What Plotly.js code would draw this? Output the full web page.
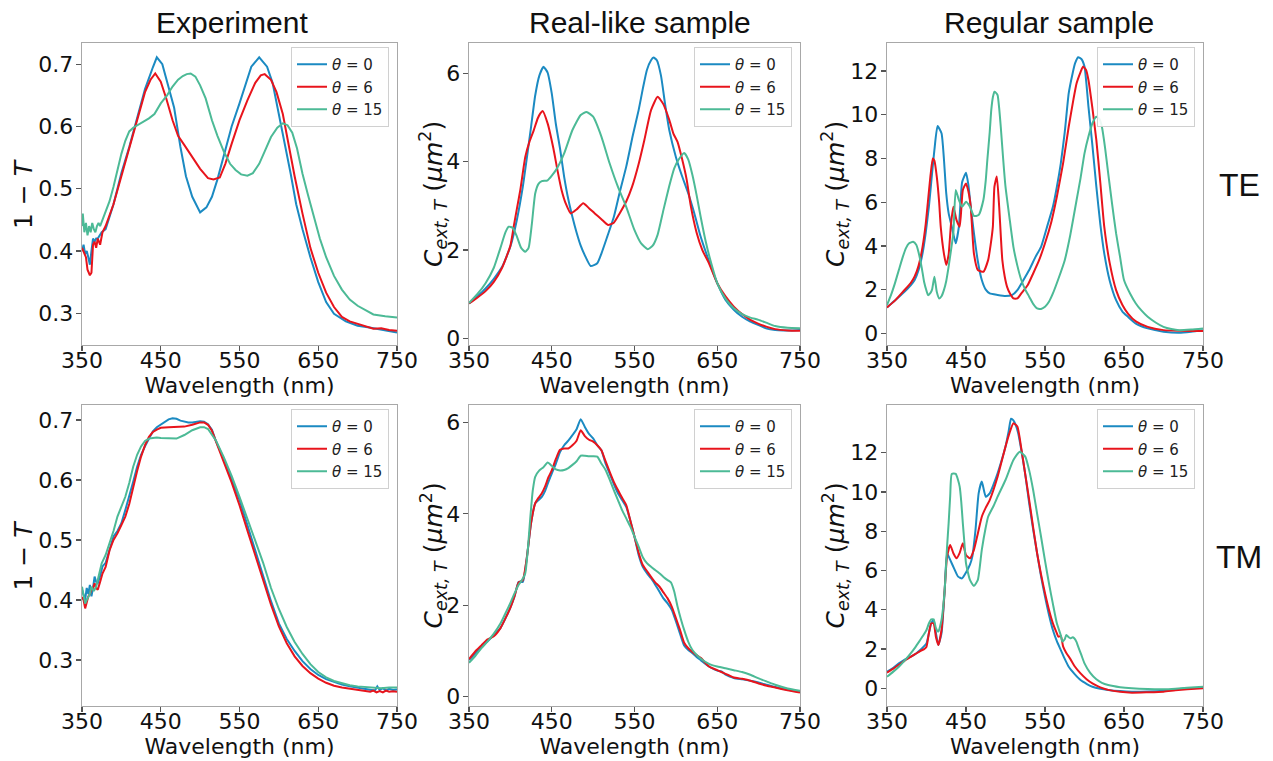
<!DOCTYPE html>
<html><head><meta charset="utf-8">
<script src="https://cdn.plot.ly/plotly-3.0.1.min.js"></script>
<style>html,body{margin:0;padding:0;background:#fff}#plot{width:1273px;height:761px}</style>
</head><body><div id="plot"></div>
<script>
// ---------- DATA ----------
const seriesNames = ["<i>θ</i> = 0", "<i>θ</i> = 6", "<i>θ</i> = 15"];
const columnTitles = ["Experiment", "Real-like sample", "Regular sample"];
const rowLabels = ["TE", "TM"];
const xTicks = [350, 450, 550, 650, 750];
const xTitle = "Wavelength (nm)";
const yTitles = ["1 − <i>T</i>", "<i>C</i><sub><i>ext, T</i></sub> (<i>μm</i><sup>2</sup>)", "<i>C</i><sub><i>ext, T</i></sub> (<i>μm</i><sup>2</sup>)"];

// Experiment, TE
const expTE_x0 = [350,352,354,356,358,360,362,364,366,368,370,372,375,380,385,390,395,400,410,420,430,440,445,452,460,467,475,482,490,500,508,515,522,530,540,550,558,565,575,585,592,600,607,615,622,630,640,650,660,670,685,700,715,725,740,750];
const expTE_y0 = [0.40,0.41,0.395,0.40,0.39,0.378,0.40,0.42,0.415,0.42,0.42,0.425,0.43,0.435,0.455,0.475,0.50,0.525,0.567,0.615,0.66,0.695,0.711,0.70,0.664,0.63,0.567,0.52,0.487,0.462,0.47,0.487,0.515,0.551,0.60,0.637,0.67,0.696,0.711,0.696,0.67,0.621,0.575,0.524,0.475,0.435,0.39,0.35,0.318,0.299,0.287,0.280,0.277,0.275,0.272,0.269];
const expTE_x1 = [350,352,355,357,360,362,364,366,368,370,373,376,380,390,400,410,420,430,437,443,450,457,465,472,480,490,500,510,517,525,532,540,550,560,570,577,582,590,597,605,612,620,630,640,650,660,670,680,690,700,710,720,730,740,750];
const expTE_y1 = [0.405,0.40,0.39,0.37,0.361,0.365,0.41,0.415,0.405,0.42,0.41,0.43,0.44,0.475,0.52,0.565,0.61,0.655,0.675,0.685,0.672,0.645,0.61,0.585,0.57,0.55,0.532,0.517,0.515,0.518,0.54,0.572,0.61,0.642,0.67,0.682,0.684,0.675,0.655,0.62,0.572,0.52,0.46,0.405,0.365,0.333,0.31,0.294,0.287,0.283,0.279,0.275,0.276,0.273,0.272];
const expTE_x2 = [350,351,353,355,357,359,361,363,365,367,369,371,373,376,380,385,390,395,400,405,410,415,420,428,435,442,450,458,465,472,478,483,488,494,500,507,515,522,530,538,545,552,560,567,575,582,590,598,605,611,617,623,630,637,645,652,660,670,680,690,700,710,720,735,750];
const expTE_y2 = [0.44,0.46,0.43,0.445,0.425,0.44,0.43,0.445,0.435,0.43,0.44,0.445,0.44,0.45,0.46,0.48,0.503,0.53,0.556,0.577,0.592,0.598,0.602,0.607,0.613,0.62,0.637,0.65,0.664,0.675,0.681,0.684,0.685,0.68,0.666,0.645,0.61,0.585,0.56,0.54,0.53,0.523,0.521,0.525,0.54,0.56,0.583,0.598,0.605,0.602,0.59,0.565,0.524,0.49,0.454,0.42,0.39,0.36,0.338,0.322,0.312,0.305,0.298,0.295,0.293];

// Real-like sample, TE
const rlTE_x0 = [350,360,370,380,390,400,408,415,420,425,430,435,440,445,450,455,460,465,470,475,480,485,490,497,505,510,517,525,532,540,548,555,560,565,570,573,577,582,587,592,600,607,615,622,630,640,650,660,670,680,690,700,710,720,730,740,750];
const rlTE_y0 = [0.79,0.95,1.13,1.35,1.62,2.08,2.7,3.43,4.1,4.79,5.5,5.95,6.15,6.02,5.55,4.85,4.3,3.66,3.15,2.75,2.4,2.1,1.88,1.64,1.7,1.92,2.3,2.75,3.3,3.89,4.6,5.17,5.65,6.08,6.3,6.36,6.3,5.95,5.3,4.72,4.11,3.7,3.28,2.85,2.3,1.75,1.25,0.87,0.65,0.49,0.38,0.3,0.22,0.19,0.18,0.18,0.19];
const rlTE_x1 = [350,360,370,380,390,400,404,408,412,418,423,428,433,436,439,445,452,457,462,467,473,480,488,495,502,510,518,525,532,540,547,555,562,570,578,585,592,597,602,607,613,618,625,632,640,650,660,670,680,690,700,710,720,735,750];
const rlTE_y1 = [0.79,0.92,1.07,1.28,1.6,2.1,2.53,2.95,3.36,4.11,4.45,4.7,4.98,5.09,5.15,4.87,4.3,3.8,3.35,3.05,2.83,2.92,3.06,2.95,2.83,2.7,2.57,2.62,2.83,3.1,3.43,3.95,4.5,5.17,5.47,5.3,4.95,4.64,4.45,4.1,3.6,3.0,2.4,2.0,1.7,1.25,0.95,0.72,0.55,0.42,0.33,0.26,0.21,0.18,0.17];
const rlTE_x2 = [350,360,370,380,388,394,398,403,408,413,418,422,426,430,434,438,445,455,465,475,485,492,500,510,520,530,540,550,558,566,572,578,585,592,598,603,610,615,620,625,630,636,642,650,660,670,680,690,700,710,720,735,750];
const rlTE_y2 = [0.8,1.0,1.25,1.6,2.05,2.4,2.53,2.5,2.3,2.05,1.96,2.05,2.6,3.28,3.5,3.56,3.58,3.81,4.19,4.72,5.06,5.13,5.02,4.57,3.96,3.43,2.98,2.45,2.15,2.02,2.1,2.35,2.91,3.45,3.85,4.04,4.2,4.05,3.7,3.25,2.75,2.2,1.75,1.25,0.9,0.68,0.55,0.47,0.42,0.35,0.28,0.24,0.23];

// Regular sample, TE
const rgTE_x0 = [350,360,370,380,385,390,395,399,403,407,410,414,419,422,425,428,432,437,441,445,448,450,453,456,460,465,470,475,480,490,500,508,515,522,530,538,545,552,560,565,570,575,580,585,588,592,596,600,605,610,615,620,625,632,640,648,655,665,680,700,720,735,750];
const rgTE_y0 = [1.19,1.5,1.83,2.2,2.44,2.9,3.66,4.6,5.79,7.3,8.39,9.48,9.15,8.0,6.4,5.5,4.88,4.12,4.88,6.9,7.2,7.35,6.8,5.79,4.6,3.3,2.44,2.0,1.83,1.76,1.71,1.75,1.98,2.4,2.9,3.5,3.96,4.8,5.79,6.7,7.78,9.2,10.98,11.9,12.35,12.63,12.55,12.2,10.37,8.6,6.71,5.0,3.66,2.4,1.52,1.0,0.76,0.45,0.23,0.08,0.03,0.08,0.15];
const rgTE_x1 = [350,360,370,380,385,390,395,399,402,405,408,410,413,416,418,422,425,428,431,434,438,442,446,450,453,456,460,465,472,478,481,484,486,489,492,494,496,499,502,506,510,515,520,528,535,542,550,558,565,573,580,586,590,595,598,602,605,610,615,620,625,632,640,648,655,665,680,700,720,750];
const rgTE_y1 = [1.19,1.5,1.9,2.3,2.6,3.1,3.96,5.0,6.1,7.2,8.0,7.9,7.17,6.0,4.88,3.66,3.13,3.6,5.0,5.79,5.18,4.88,6.56,6.86,6.5,5.79,3.66,2.9,2.82,3.35,4.0,4.88,6.71,7.17,5.79,4.5,3.35,2.6,2.13,1.8,1.6,1.6,1.83,2.2,2.74,3.3,4.12,5.1,6.25,7.8,9.45,10.7,11.44,11.95,12.2,12.05,11.59,10.3,8.84,6.9,4.88,3.2,1.98,1.3,0.91,0.55,0.3,0.15,0.12,0.11];
const rgTE_x2 = [350,355,360,365,370,374,378,383,387,390,394,397,400,402,405,407,410,413,416,419,422,425,428,431,434,437,441,445,450,455,460,466,472,475,477,480,482,484,486,488,490,492,494,497,500,505,510,515,520,525,530,535,540,545,550,555,560,567,575,582,590,595,600,605,610,615,619,622,626,630,635,640,645,650,658,665,672,680,690,700,710,720,735,750];
const rgTE_y2 = [1.3,1.75,2.29,2.9,3.5,3.9,4.12,4.19,4.05,3.7,3.0,2.35,1.95,1.75,1.85,2.0,2.59,1.9,1.6,1.7,1.98,2.4,3.05,3.8,4.6,6.56,6.1,5.79,6.02,5.79,5.37,5.41,6.1,7.0,7.93,9.2,10.22,10.8,11.05,11.0,10.9,10.3,9.45,8.0,6.71,5.3,3.96,3.1,2.44,2.0,1.68,1.35,1.14,1.12,1.22,1.45,1.83,2.5,3.35,4.5,6.1,7.1,8.23,9.0,9.61,9.91,9.8,9.45,8.5,7.32,5.9,4.57,3.5,2.44,1.8,1.37,1.05,0.76,0.5,0.3,0.2,0.15,0.18,0.23];

// Experiment, TM
const expTM_x0 = [350,352,354,356,358,360,362,364,366,368,370,373,376,380,385,390,395,400,405,410,415,420,425,430,435,440,445,450,455,460,465,470,475,480,485,490,495,500,505,510,515,520,530,540,550,560,570,580,590,600,610,620,625,630,640,650,660,670,680,690,700,710,718,722,725,728,732,736,740,745,750];
const expTM_y0 = [0.417,0.41,0.40,0.42,0.41,0.425,0.406,0.42,0.439,0.43,0.428,0.44,0.456,0.462,0.485,0.506,0.515,0.528,0.55,0.572,0.597,0.622,0.642,0.656,0.668,0.681,0.688,0.692,0.697,0.701,0.703,0.702,0.699,0.697,0.696,0.696,0.697,0.698,0.697,0.693,0.684,0.665,0.635,0.6,0.567,0.525,0.482,0.44,0.398,0.361,0.335,0.315,0.306,0.298,0.285,0.275,0.268,0.263,0.259,0.256,0.254,0.252,0.251,0.249,0.256,0.25,0.253,0.249,0.252,0.25,0.251];
const expTM_x1 = [350,352,354,356,358,360,362,364,366,368,370,373,376,380,385,390,395,400,405,410,415,420,425,430,435,440,445,450,460,470,480,490,500,505,510,515,520,530,540,550,560,570,580,590,600,610,620,630,640,650,660,670,680,690,700,710,716,720,724,728,732,736,740,745,750];
const expTM_y1 = [0.405,0.40,0.386,0.395,0.406,0.41,0.417,0.42,0.428,0.42,0.417,0.43,0.444,0.455,0.483,0.50,0.511,0.525,0.539,0.56,0.589,0.615,0.639,0.658,0.672,0.68,0.684,0.687,0.688,0.688,0.689,0.692,0.696,0.696,0.692,0.682,0.664,0.63,0.596,0.558,0.516,0.474,0.432,0.392,0.356,0.328,0.306,0.29,0.278,0.269,0.262,0.257,0.254,0.252,0.25,0.249,0.247,0.249,0.246,0.248,0.246,0.249,0.247,0.248,0.247];
const expTM_x2 = [350,352,354,356,358,360,362,365,368,371,375,380,385,390,395,400,405,410,415,420,425,430,435,440,445,450,460,470,480,490,500,505,510,520,530,540,550,560,570,580,590,600,610,620,630,640,650,660,670,680,690,700,710,720,730,740,750];
const expTM_y2 = [0.422,0.41,0.394,0.40,0.406,0.41,0.422,0.415,0.422,0.44,0.461,0.475,0.494,0.515,0.539,0.555,0.572,0.595,0.622,0.642,0.656,0.665,0.669,0.67,0.671,0.67,0.669,0.669,0.675,0.683,0.688,0.688,0.685,0.666,0.638,0.607,0.572,0.536,0.50,0.462,0.42,0.385,0.355,0.33,0.31,0.293,0.28,0.271,0.265,0.261,0.258,0.256,0.255,0.254,0.253,0.254,0.254];

// Real-like sample, TM
const rlTM_x0 = [350,358,365,372,380,388,395,400,405,410,415,420,425,430,434,438,442,446,450,455,460,465,470,475,480,485,490,495,500,505,510,515,520,525,530,535,540,545,550,555,560,565,570,575,580,585,590,595,600,605,610,615,620,625,630,640,650,655,660,665,670,680,690,700,710,720,735,750];
const rlTM_y0 = [0.8,0.95,1.09,1.2,1.35,1.5,1.75,1.95,2.19,2.51,2.51,3.06,3.79,4.23,4.3,4.37,4.5,4.7,4.88,5.1,5.35,5.5,5.6,5.72,5.85,6.07,5.9,5.75,5.65,5.5,5.39,5.1,4.88,4.65,4.45,4.3,4.15,3.85,3.5,3.1,2.84,2.7,2.59,2.45,2.3,2.15,2.04,1.9,1.65,1.38,1.12,1.02,0.95,0.87,0.8,0.66,0.57,0.55,0.48,0.44,0.41,0.38,0.35,0.31,0.26,0.21,0.15,0.11];
const rlTM_x1 = [350,358,365,372,380,388,395,400,405,410,415,420,425,430,434,438,442,446,450,455,460,465,470,475,480,485,490,495,500,505,510,515,520,525,530,535,540,545,550,555,560,565,570,575,580,585,590,595,600,605,610,615,620,625,630,640,650,655,660,665,670,680,690,700,710,720,735,750];
const rlTM_y1 = [0.82,1.0,1.12,1.25,1.32,1.5,1.75,1.95,2.2,2.5,2.55,3.06,3.8,4.23,4.35,4.45,4.6,4.8,4.95,5.2,5.4,5.43,5.43,5.5,5.6,5.83,5.7,5.62,5.58,5.5,5.39,5.15,4.92,4.7,4.52,4.35,4.19,3.85,3.5,3.15,2.88,2.75,2.62,2.5,2.41,2.28,2.15,1.97,1.72,1.46,1.18,1.06,0.98,0.91,0.85,0.66,0.58,0.54,0.5,0.46,0.42,0.39,0.35,0.29,0.24,0.2,0.14,0.09];
const rlTM_x2 = [350,358,365,372,380,388,395,400,405,410,414,418,421,424,427,430,435,440,445,450,455,460,465,470,475,480,485,490,495,500,505,510,515,520,525,530,535,540,545,550,555,560,565,570,575,580,585,590,594,598,602,606,610,615,620,627,635,642,650,660,670,680,690,700,710,720,735,750];
const rlTM_y2 = [0.74,0.9,1.06,1.2,1.38,1.6,1.86,2.05,2.26,2.45,2.55,2.7,3.2,3.9,4.5,4.81,4.95,5.02,5.12,5.05,4.97,4.95,4.96,5.0,5.07,5.15,5.27,5.27,5.26,5.26,5.25,5.1,4.96,4.75,4.52,4.3,4.08,3.9,3.72,3.5,3.28,3.05,2.92,2.84,2.77,2.7,2.62,2.55,2.5,2.3,1.97,1.7,1.46,1.2,1.02,0.88,0.77,0.7,0.66,0.62,0.58,0.54,0.48,0.4,0.33,0.26,0.18,0.13];

// Regular sample, TM
const rgTM_x0 = [350,358,365,372,380,386,392,397,400,403,406,409,412,415,419,423,426,430,435,440,445,450,455,458,462,466,470,475,480,485,490,495,500,504,507,510,513,516,520,525,530,535,540,545,550,555,560,565,570,575,580,587,595,603,610,620,630,645,660,680,700,715,730,750];
const rgTM_y0 = [0.85,1.05,1.27,1.45,1.61,1.75,1.95,2.15,2.29,2.8,3.31,3.48,2.8,2.21,2.8,5.0,6.88,6.54,6.1,5.69,5.6,5.9,6.3,6.71,8.06,9.93,10.53,9.76,9.93,10.4,10.95,11.6,12.31,13.1,13.73,13.65,13.4,13.0,12.14,10.9,9.42,8.1,6.88,5.7,4.67,3.75,2.97,2.4,1.95,1.5,1.1,0.75,0.42,0.22,0.08,-0.02,-0.08,-0.14,-0.17,-0.16,-0.12,-0.06,0.0,0.03];
const rgTM_x1 = [350,358,365,372,380,386,392,397,400,403,406,409,412,415,419,423,426,430,434,438,442,446,450,455,460,465,470,475,480,490,500,505,510,515,520,525,530,535,540,545,550,555,560,564,567,570,573,577,582,588,595,603,610,620,630,645,660,680,700,715,730,750];
const rgTM_y1 = [0.8,1.0,1.2,1.4,1.6,1.75,1.9,2.0,2.12,2.8,3.31,3.31,2.6,2.21,2.97,5.0,6.71,7.3,6.88,6.62,6.9,7.39,6.79,6.62,7.05,7.89,8.74,9.2,9.59,10.78,12.31,13.0,13.5,13.33,12.22,10.9,9.59,8.2,6.88,5.8,4.84,4.0,3.31,2.9,2.63,2.67,2.12,1.8,1.5,1.1,0.76,0.45,0.25,0.05,-0.08,-0.18,-0.22,-0.2,-0.17,-0.1,-0.05,0.0];
const rgTM_x2 = [350,358,365,372,380,386,392,396,400,403,406,409,412,415,419,423,426,428,430,432,437,440,442,444,446,448,450,455,460,465,470,475,478,485,490,500,510,518,525,530,535,540,545,550,555,560,565,570,572,575,577,580,582,585,587,590,592,596,600,607,615,622,630,645,660,680,700,715,730,750];
const rgTM_y2 = [0.59,0.85,1.1,1.4,1.78,2.1,2.46,2.7,2.97,3.3,3.51,3.51,3.06,2.89,3.48,5.0,7.2,8.4,9.8,10.92,10.92,10.6,10.27,9.5,8.4,7.4,6.37,5.52,5.21,5.52,7.05,8.2,8.74,9.3,9.76,10.61,11.63,12.05,11.8,11.1,10.1,8.9,7.72,6.5,5.35,4.3,3.31,2.7,2.38,2.5,2.72,2.6,2.55,2.6,2.55,2.35,2.12,1.7,1.27,0.8,0.46,0.28,0.17,0.06,0.0,-0.04,-0.05,-0.02,0.03,0.08];

// ---------- STYLE / LAYOUT ----------
const colors = ['#1b8ac2', '#e8141c', '#4cba96'];
const W = 1273, H = 761;
const colPx = [[82, 397], [469, 800], [887, 1203]];
const rowPx = [[43, 345], [405, 706]];
const yRanges = [[0.249, 0.734], [-0.15, 6.69], [-0.53, 13.28], [0.2233, 0.725], [-0.204, 6.38], [-0.9, 14.43]];
const yTicks = [[0.3,0.4,0.5,0.6,0.7], [0,2,4,6], [0,2,4,6,8,10,12], [0.3,0.4,0.5,0.6,0.7], [0,2,4,6], [0,2,4,6,8,10,12]];
const yTitleX = [23, 433, 835];

const panels = [
  [[expTE_x0, expTE_y0], [expTE_x1, expTE_y1], [expTE_x2, expTE_y2]],
  [[rlTE_x0, rlTE_y0], [rlTE_x1, rlTE_y1], [rlTE_x2, rlTE_y2]],
  [[rgTE_x0, rgTE_y0], [rgTE_x1, rgTE_y1], [rgTE_x2, rgTE_y2]],
  [[expTM_x0, expTM_y0], [expTM_x1, expTM_y1], [expTM_x2, expTM_y2]],
  [[rlTM_x0, rlTM_y0], [rlTM_x1, rlTM_y1], [rlTM_x2, rlTM_y2]],
  [[rgTM_x0, rgTM_y0], [rgTM_x1, rgTM_y1], [rgTM_x2, rgTM_y2]]
];

const tickFont = {family: 'DejaVu Sans', size: 22, color: '#111'};
const data = [];
const layout = {
  width: W, height: H,
  margin: {l: 0, r: 0, t: 0, b: 0},
  paper_bgcolor: '#fff', plot_bgcolor: '#fff',
  font: {family: 'DejaVu Sans', color: '#111'},
  annotations: []
};

panels.forEach((series, p) => {
  const col = p % 3, row = Math.floor(p / 3);
  const sfx = p === 0 ? '' : String(p + 1);
  const legName = 'legend' + sfx;
  const isExp = col === 0;
  series.forEach((s, k) => {
    data.push({
      x: s[0], y: s[1], type: 'scatter', mode: 'lines',
      name: seriesNames[k],
      xaxis: 'x' + sfx, yaxis: 'y' + sfx,
      legend: legName,
      line: {color: colors[k], width: 2, shape: isExp ? 'linear' : 'spline', smoothing: 0.5}
    });
  });
  const xd = [colPx[col][0] / W, colPx[col][1] / W];
  const yd = [1 - rowPx[row][1] / H, 1 - rowPx[row][0] / H];
  const common = {
    showline: true, mirror: true, linecolor: '#a8a8a8', linewidth: 1.3,
    ticks: 'outside', ticklen: 5, tickwidth: 1.2, tickcolor: '#555',
    showgrid: false, zeroline: false, tickfont: tickFont
  };
  layout['xaxis' + sfx] = Object.assign({}, common, {
    domain: xd, range: [350, 750], tickvals: xTicks, anchor: 'y' + sfx,
    ticklabelstandoff: -10,
    title: {text: xTitle, font: {family: 'DejaVu Sans', size: 22, color: '#111'}, standoff: 2}
  });
  layout['yaxis' + sfx] = Object.assign({}, common, {
    domain: yd, range: yRanges[p], tickvals: yTicks[p], anchor: 'x' + sfx,
    tickformat: isExp ? '.1f' : 'd', ticklabelstandoff: -2
  });
  // y-axis title, placed as a rotated label beside the axis
  layout.annotations.push({
    text: yTitles[col], xref: 'paper', yref: 'paper',
    x: yTitleX[col] / W, y: 1 - (rowPx[row][0] + rowPx[row][1]) / 2 / H,
    xanchor: 'center', yanchor: 'middle', textangle: -90, showarrow: false,
    font: {family: 'DejaVu Sans', size: 25, color: '#111'}
  });
  layout[legName] = {
    x: (colPx[col][1] - 8) / W, xanchor: 'right',
    y: 1 - (rowPx[row][0] + 4) / H, yanchor: 'top',
    bgcolor: 'rgba(255,255,255,0.9)', bordercolor: '#d0d0d0', borderwidth: 1,
    font: {family: 'DejaVu Sans', size: 15, color: '#222'},
    tracegroupgap: 0, itemwidth: 30
  };
});

// column titles
const titleX = [232, 640, 1049];
columnTitles.forEach((t, i) => {
  layout.annotations.push({
    text: t, xref: 'paper', yref: 'paper', x: titleX[i] / W, y: 1 - 23 / H,
    xanchor: 'center', yanchor: 'middle', showarrow: false,
    font: {family: 'Liberation Sans, Arial', size: 30, color: '#111'}
  });
});
// row labels
const rowLabelY = [185, 557];
rowLabels.forEach((t, i) => {
  layout.annotations.push({
    text: t, xref: 'paper', yref: 'paper', x: 1239 / W, y: 1 - rowLabelY[i] / H,
    xanchor: 'center', yanchor: 'middle', showarrow: false,
    font: {family: 'Liberation Sans, Arial', size: 32, color: '#111'}
  });
});

Plotly.newPlot('plot', data, layout, {displayModeBar: false, staticPlot: true});
</script>
</body></html>
